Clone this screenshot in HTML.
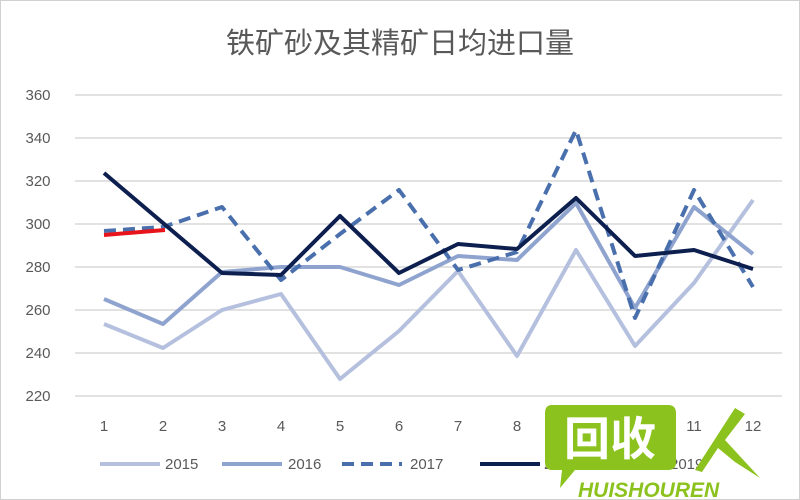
<!DOCTYPE html>
<html><head><meta charset="utf-8"><style>body{margin:0;background:#fff}svg{display:block}</style></head><body>
<svg width="800" height="500" viewBox="0 0 800 500" xmlns="http://www.w3.org/2000/svg" font-family="Liberation Sans, sans-serif">
<rect x="0.5" y="0.5" width="799" height="499" fill="#fff" stroke="#d0d0d0"/>
<text x="400" y="53" text-anchor="middle" font-size="29" fill="#595959" font-family="Liberation Sans, Noto Sans CJK SC, sans-serif">铁矿砂及其精矿日均进口量</text>
<g stroke="#d9d9d9" stroke-width="1.5">
<line x1="75" y1="95" x2="782" y2="95"/><line x1="75" y1="138" x2="782" y2="138"/><line x1="75" y1="181" x2="782" y2="181"/><line x1="75" y1="224" x2="782" y2="224"/><line x1="75" y1="267" x2="782" y2="267"/><line x1="75" y1="310" x2="782" y2="310"/><line x1="75" y1="353" x2="782" y2="353"/><line x1="75" y1="396" x2="782" y2="396"/>
</g>
<g font-size="15" fill="#595959" text-anchor="middle">
<text x="38" y="100">360</text><text x="38" y="143">340</text><text x="38" y="186">320</text><text x="38" y="229">300</text><text x="38" y="272">280</text><text x="38" y="315">260</text><text x="38" y="358">240</text><text x="38" y="401">220</text>
<text x="104" y="431">1</text><text x="163" y="431">2</text><text x="222" y="431">3</text><text x="281" y="431">4</text><text x="340" y="431">5</text><text x="399" y="431">6</text><text x="458" y="431">7</text><text x="517" y="431">8</text><text x="576" y="431">9</text><text x="635" y="431">10</text><text x="694" y="431">11</text><text x="753" y="431">12</text>
</g>
<g fill="none" stroke-width="4" stroke-linejoin="round">
<polyline stroke="#b4c0de" points="104,324 163,348 222,310 281,294 340,379 399,331 458,271 517,356 576,250 635,346 694,283 753,200"/>
<polyline stroke="#8fa3cf" points="104,299 163,324 222,272 281,267 340,267 399,285 458,256 517,260 576,203 635,308 694,207 753,254"/>
<polyline stroke="#4a6fad" stroke-dasharray="12,7" points="104,231 163,227 222,207 281,280 340,234 399,190 458,270 517,252 576,130 635,318 694,190 753,287"/>
<polyline stroke="#0d1f4f" points="104,173 163,223 222,273 281,275 340,216 399,273 458,244 517,249 576,198 635,256 694,250 753,269"/>
<polyline stroke="#e8141c" points="104,235 165,230"/>
</g>
<g font-size="15" fill="#595959">
<line x1="100" y1="464" x2="160" y2="464" stroke="#b4c0de" stroke-width="4"/><text x="165" y="469">2015</text>
<line x1="222" y1="464" x2="282" y2="464" stroke="#8fa3cf" stroke-width="4"/><text x="288" y="469">2016</text>
<line x1="342" y1="464" x2="402" y2="464" stroke="#4a6fad" stroke-width="4" stroke-dasharray="12,7"/><text x="410" y="469">2017</text>
<line x1="480" y1="464" x2="540" y2="464" stroke="#0d1f4f" stroke-width="4"/><text x="544" y="469">2018</text>
<text x="670" y="469">2019</text>
</g>
<g>
<path d="M552,405 H668 Q676,405 676,413 V462 Q676,470 668,470 H575 L560,488 L562,470 H552 Q545,470 545,462 V413 Q545,405 552,405 Z" fill="#8cc21e"/>
<text x="610" y="455" text-anchor="middle" font-size="46" font-weight="bold" fill="#fff" font-family="Noto Sans CJK SC, sans-serif">回收</text>
<path d="M695,470 L735,408 L745,414 L725,440 L760,478 L735,462 L718,448 L702,472 Z" fill="#8cc21e"/>
<text x="578" y="497" font-size="21" font-weight="bold" font-style="italic" fill="#8cc21e">HUISHOUREN</text>
</g>
</svg>
</body></html>
